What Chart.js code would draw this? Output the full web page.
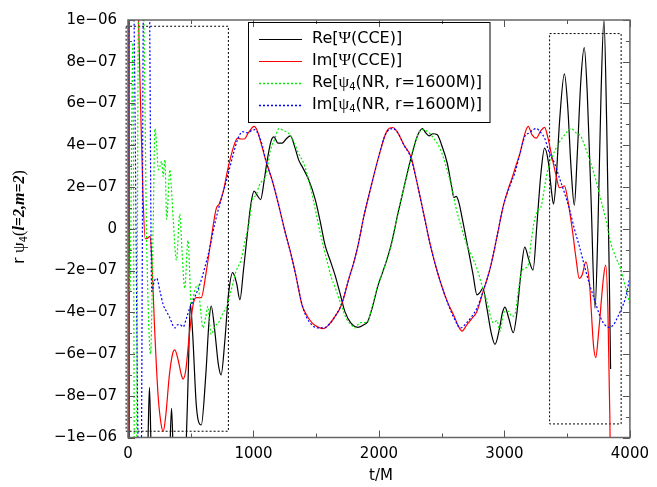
<!DOCTYPE html>
<html>
<head>
<meta charset="utf-8">
<script src="https://cdn.jsdelivr.net/npm/chart.js@4.4.1/dist/chart.umd.min.js"></script>
<style>
  html, body { margin: 0; padding: 0; background: #fff; }
  canvas { display: block; }
</style>
</head>
<body>
<canvas id="psi4-chart" width="657" height="487"></canvas>
<script>
// values are stored in units of 1e-7
const UNIT = 1e-7;

// Re[Psi(CCE)] - black solid
const reCceT = [0, 3, 6, 10, 150, 160, 171, 182, 195, 330,
  347, 362, 420, 460, 480, 497, 515, 545, 584, 620,
  645, 663, 690, 720, 742, 770, 800, 834, 865, 892,
  920, 952, 980, 1005, 1030, 1057, 1085, 1110, 1140, 1163,
  1195, 1228, 1260, 1294, 1330, 1360, 1386, 1439, 1492, 1530,
  1571, 1610, 1650, 1690, 1728, 1780, 1833, 1880, 1912, 1950,
  1991, 2040, 2096, 2150, 2202, 2260, 2310, 2347, 2372, 2399,
  2430, 2465, 2500, 2544, 2580, 2597, 2615, 2635, 2670, 2715,
  2750, 2781, 2805, 2828, 2860, 2895, 2925, 2960, 2985, 3004,
  3035, 3070, 3100, 3130, 3162, 3195, 3228, 3260, 3290, 3320,
  3350, 3375, 3391, 3410, 3440, 3478, 3505, 3530, 3557, 3580,
  3610, 3636, 3660, 3690, 3722, 3745, 3770, 3793, 3815, 3835,
  3846];
const reCceV = [15, -15, 15, -15, -13, -10, -7.6, -10, -13, -11,
  -8.6, -11, -14, -11, -7, -3.6, -5, -8.5, -9.4, -7,
  -4.5, -3.7, -4.8, -6.5, -7.0, -5.5, -3.2, -2.1, -2.6, -3.4,
  -2, -0.2, 1.2, 1.8, 1.6, 1.4, 2.3, 3.3, 4.2, 4.4,
  4.1, 4.1, 4.3, 4.45, 3.9, 3.3, 3.0, 2.36, 1.41, 0.4,
  -0.8, -1.5, -2.22, -3.1, -3.96, -4.55, -4.72, -4.6, -4.43, -3.7,
  -2.75, -1.9, -0.8, 0.7, 2.05, 3.5, 4.5, 4.8, 4.6, 4.45,
  4.55, 4.5, 4.0, 3.15, 2.0, 1.5, 1.55, 1.3, 0.3, -1.1,
  -2.2, -3.17, -3.05, -2.85, -3.8, -5.0, -5.54, -4.8, -4.0, -3.75,
  -4.3, -4.98, -4.0, -2.2, -0.88, -1.5, -1.98, 0.3, 2.6, 3.86,
  3.2, 1.8, 1.18, 2.2, 5.2, 7.42, 5.8, 3.0, 1.13, 3.5,
  7.2, 8.68, 6.5, 1.5, -3.8, 0, 6.5, 10, 5, -2,
  -6.72];

// Im[Psi(CCE)] - red solid
const imCceT = [0, 3, 6, 10, 70, 84, 100, 120, 137, 155,
  176, 190, 210, 240, 265, 281, 300, 330, 355, 373,
  400, 425, 439, 460, 490, 520, 544, 584, 620, 660,
  702, 728, 760, 790, 807, 840, 873, 900, 926, 960,
  1005, 1030, 1060, 1097, 1150, 1202, 1250, 1294, 1340, 1386,
  1420, 1465, 1510, 1557, 1600, 1650, 1702, 1760, 1800, 1833,
  1880, 1938, 2000, 2050, 2070, 2110, 2150, 2200, 2254, 2300,
  2360, 2410, 2465, 2544, 2600, 2640, 2662, 2700, 2740, 2781,
  2830, 2886, 2940, 2991, 3030, 3057, 3096, 3123, 3160, 3189,
  3220, 3254, 3290, 3320, 3345, 3373, 3410, 3438, 3460, 3478,
  3504, 3540, 3570, 3596, 3620, 3649, 3680, 3710, 3728, 3750,
  3790, 3807, 3825, 3840, 3850];
const imCceV = [-15, 15, -15, 15, 13, 10, 6, 1.5, -0.48, -0.45,
  -0.36, -1.5, -4.5, -8, -9.4, -9.7, -9.0, -7, -6, -5.8,
  -6.3, -7.0, -7.2, -6.8, -5, -3.6, -3.3, -3.3, -2.2, -0.6,
  0.94, 1.2, 1.8, 2.7, 3.15, 3.9, 4.34, 4.3, 4.3, 4.6,
  4.9, 4.7, 4.1, 3.3, 2.3, 1.1, -0.1, -1.1, -2.3, -3.64,
  -4.1, -4.5, -4.7, -4.78, -4.6, -4.2, -3.64, -2.4, -1.6, -0.8,
  0.6, 2.05, 3.5, 4.5, 4.75, 4.85, 4.6, 4.0, 3.47, 2.3,
  0.63, -0.8, -2.06, -3.48, -4.2, -4.75, -4.9, -4.6, -4.3, -3.96,
  -3.0, -1.9, -0.4, 1.1, 1.9, 2.36, 3.1, 3.6, 4.5, 4.9,
  4.5, 4.34, 4.7, 4.86, 4.4, 3.6, 2.6, 1.97, 2.0, 2.05,
  1.41, 0, -1.4, -2.38, -2.2, -1.59, -2.8, -5.6, -6.17, -5,
  -2.3, -1.74, -4, -9, -14];

// Re[psi4(NR, r=1600M)] - green dotted
const reNrT = [0, 15, 39, 52, 66, 85, 118, 150, 180, 200,
  215, 228, 242, 255, 268, 280, 295, 308, 334, 345,
  360, 386, 413, 430, 452, 478, 505, 530, 557, 580,
  597, 620, 636, 650, 663, 690, 728, 760, 781, 820,
  860, 900, 939, 965, 991, 1020, 1044, 1070, 1097, 1136,
  1170, 1202, 1240, 1281, 1320, 1360, 1399, 1452, 1490, 1531,
  1580, 1623, 1650, 1689, 1740, 1780, 1807, 1850, 1899, 1940,
  1991, 2040, 2096, 2150, 2202, 2260, 2310, 2347, 2399, 2440,
  2490, 2544, 2580, 2610, 2650, 2702, 2740, 2781, 2820, 2860,
  2912, 2940, 2965, 2995, 3031, 3060, 3083, 3110, 3136, 3160,
  3189, 3215, 3241, 3270, 3294, 3320, 3346, 3385, 3425, 3480,
  3531, 3570, 3609, 3650, 3688, 3730, 3767, 3810, 3846, 3890,
  3925, 3965, 4000];
const reNrV = [0, -3, 8.9, -12, -12, 12, 12, -1, -6.0, 0,
  4.8, 4.0, 2.83, 3.0, 3.23, 2.5, 3.3, 0.46, 2.83, 2.0,
  0.5, -1.5, 0.7, -1.0, -2.85, -0.56, -3.64, -3.0, -2.69, -4.0,
  -4.75, -4.2, -3.72, -4.5, -5.06, -4.7, -4.43, -4.0, -3.8, -3.0,
  -2.06, -1.5, -0.4, 0.3, 1.41, 1.6, 2.05, 2.3, 2.52, 3.78,
  4.3, 4.8, 4.7, 4.57, 4.2, 3.6, 3.15, 2.05, 1.0, -0.17,
  -1.4, -2.38, -2.8, -3.48, -4.3, -4.6, -4.75, -4.5, -4.5, -3.9,
  -2.7, -1.9, -0.8, 0.7, 2.05, 3.5, 4.5, 4.75, 4.6, 4.3,
  3.8, 2.8, 2.0, 1.1, 0.2, -0.8, -1.3, -1.9, -2.7, -3.48,
  -4.5, -4.4, -4.9, -4.0, -3.96, -4.2, -4.1, -3.0, -2.06, -1.9,
  -1.74, -0.5, 0.46, 0.9, 1.1, 2.0, 2.83, 3.5, 4.02, 4.5,
  4.8, 4.6, 4.42, 3.8, 3.15, 2.3, 1.41, 0.4, -0.64, -1.4,
  -1.9, -2.8, -3.64];

// Im[psi4(NR, r=1600M)] - blue dotted
const imNrT = [0, 8, 40, 88, 104, 125, 168, 189, 210, 229,
  255, 281, 310, 334, 355, 373, 395, 413, 440, 465,
  492, 530, 571, 610, 650, 690, 728, 770, 807, 840,
  873, 912, 950, 985, 1010, 1040, 1070, 1097, 1150, 1202,
  1250, 1294, 1340, 1386, 1420, 1465, 1510, 1557, 1600, 1650,
  1702, 1760, 1800, 1833, 1880, 1938, 2000, 2050, 2110, 2150,
  2200, 2254, 2300, 2360, 2410, 2465, 2544, 2600, 2649, 2700,
  2740, 2781, 2830, 2886, 2940, 2991, 3040, 3083, 3120, 3162,
  3200, 3230, 3254, 3290, 3320, 3360, 3399, 3440, 3478, 3520,
  3557, 3600, 3636, 3675, 3714, 3767, 3800, 3833, 3870, 3899,
  3935, 3964, 4000];
const imNrV = [0, 12, 12, -12, -12, 12, 12, -3.0, -2.5, -2.38,
  -3.0, -3.64, -4.0, -4.27, -4.6, -4.75, -4.6, -4.59, -4.7, -4.3,
  -3.8, -3.3, -2.69, -1.9, -0.96, 0.2, 1.1, 2.0, 2.83, 3.6,
  4.26, 4.65, 4.6, 4.7, 4.75, 4.5, 4.0, 3.3, 2.3, 1.1,
  -0.1, -1.1, -2.3, -3.6, -4.2, -4.6, -4.75, -4.75, -4.6, -4.2,
  -3.6, -2.4, -1.6, -0.8, 0.6, 2.05, 3.5, 4.5, 4.8, 4.6,
  4.0, 3.4, 2.3, 0.6, -0.8, -2.06, -3.5, -4.3, -4.75, -4.5,
  -4.2, -3.8, -3.0, -1.9, -0.4, 1.1, 2.0, 2.68, 3.5, 4.42,
  4.6, 4.75, 4.8, 4.6, 4.34, 3.6, 3.15, 2.4, 1.73, 0.9,
  0, -0.9, -1.74, -2.6, -3.33, -4.27, -4.6, -4.72, -4.6, -4.27,
  -3.8, -3.33, -2.3];

// dotted zoom boxes (t corners, value corners)
const box1T = [-15, 800, 800, -15, -15];
const box1V = [9.7, 9.7, -9.7, -9.7, 9.7];
const box2T = [3360, 3930, 3930, 3360, 3360];
const box2V = [9.35, 9.35, -9.35, -9.35, 9.35];

const xTickValues = [0, 1000, 2000, 3000, 4000];
const xTickLabels = ['0', '1000', '2000', '3000', '4000'];
const yTickValues = [-10, -8, -6, -4, -2, 0, 2, 4, 6, 8, 10];
const yTickLabels = ['\u22121e\u221206', '\u22128e\u221207', '\u22126e\u221207', '\u22124e\u221207', '\u22122e\u221207', '0',
  '2e\u221207', '4e\u221207', '6e\u221207', '8e\u221207', '1e\u221206'];

const SANS = '15px "DejaVu Sans"';
const LEG = '16px "DejaVu Sans"';
const GREEK = '17px "Liberation Serif"';
const SUB = '10px "DejaVu Sans"';

function pts(ts, vs) {
  return ts.map((t, i) => ({ x: t, y: vs[i] * UNIT }));
}

function drawRich(ctx, parts, x, y, center) {
  let w = 0;
  parts.forEach(p => { ctx.font = p[1]; w += ctx.measureText(p[0]).width; });
  let cx = center ? x - w / 2 : x;
  parts.forEach(p => {
    ctx.font = p[1];
    ctx.fillText(p[0], cx, y + (p[2] || 0));
    cx += ctx.measureText(p[0]).width;
  });
}

const legendRows = [
  { color: '#000000', dash: [], parts: [['Re[', LEG], ['\u03A8', GREEK], ['(CCE)]', LEG]] },
  { color: '#ff0000', dash: [], parts: [['Im[', LEG], ['\u03A8', GREEK], ['(CCE)]', LEG]] },
  { color: '#00ee00', dash: [2, 2], parts: [['Re[', LEG], ['\u03C8', GREEK], ['4', SUB, 4], ['(NR, r=1600M)]', LEG]] },
  { color: '#0000ff', dash: [2, 2], parts: [['Im[', LEG], ['\u03C8', GREEK], ['4', SUB, 4], ['(NR, r=1600M)]', LEG]] }
];

const frame = {
  id: 'frame',
  afterDatasetsDraw(chart) {
    const { ctx, chartArea: a, scales: { x, y } } = chart;
    ctx.save();
    ctx.setLineDash([]);
    ctx.strokeStyle = '#555';
    ctx.lineWidth = 1;
    // ticks on all four sides, pointing inward
    for (let t = 0; t <= 4000; t += 500) {
      const px = Math.round(x.getPixelForValue(t)) + 0.5;
      const len = t % 1000 === 0 ? 7 : 4;
      ctx.beginPath();
      ctx.moveTo(px, a.bottom); ctx.lineTo(px, a.bottom - len);
      ctx.moveTo(px, a.top); ctx.lineTo(px, a.top + len);
      ctx.stroke();
    }
    for (let k = -10; k <= 10; k++) {
      const py = Math.round(y.getPixelForValue(k * UNIT)) + 0.5;
      const len = k % 2 === 0 ? 7 : 4;
      ctx.beginPath();
      ctx.moveTo(a.left, py); ctx.lineTo(a.left + len, py);
      ctx.moveTo(a.right, py); ctx.lineTo(a.right - len, py);
      ctx.stroke();
    }
    ctx.strokeStyle = '#666';
    ctx.lineWidth = 1.5;
    ctx.strokeRect(a.left, a.top, a.right - a.left, a.bottom - a.top);

    // legend
    ctx.lineWidth = 1;
    ctx.strokeStyle = '#000';
    ctx.strokeRect(248.5, 22.5, 241.5, 100);
    ctx.fillStyle = '#000';
    ctx.textBaseline = 'middle';
    ctx.textAlign = 'left';
    legendRows.forEach((row, i) => {
      const ry = 39 + i * 22;
      ctx.strokeStyle = row.color;
      ctx.setLineDash(row.dash);
      ctx.lineWidth = row.dash.length ? 1.3 : 1.2;
      ctx.beginPath();
      ctx.moveTo(259, ry + 0.5); ctx.lineTo(302, ry + 0.5);
      ctx.stroke();
      drawRich(ctx, row.parts, 312, ry, false);
    });
    ctx.setLineDash([]);

    // axis titles
    ctx.font = SANS;
    ctx.textAlign = 'center';
    ctx.fillText('t/M', 381, 476);
    ctx.textAlign = 'left';
    ctx.translate(20, 217);
    ctx.rotate(-Math.PI / 2);
    drawRich(ctx, [['r ', SANS], ['\u03C8', GREEK], ['4', SUB, 4], ['(', '16px "Liberation Serif"'],
      ['l=2,m=2', 'bold italic 16px "Liberation Serif"'], [')', '16px "Liberation Serif"']], 0, 0, true);
    ctx.restore();
  }
};

const curve = {
  pointRadius: 0,
  borderWidth: 1.2,
  fill: false,
  cubicInterpolationMode: 'monotone'
};

const box = {
  pointRadius: 0,
  borderWidth: 1,
  borderColor: '#000',
  borderDash: [2, 2],
  fill: false,
  tension: 0,
  clip: 6,
  order: 5
};

new Chart(document.getElementById('psi4-chart').getContext('2d'), {
  type: 'line',
  data: {
    datasets: [
      { ...curve, label: 'Re[Psi(CCE)]', data: pts(reCceT, reCceV), borderColor: '#000000', order: 3 },
      { ...curve, label: 'Im[Psi(CCE)]', data: pts(imCceT, imCceV), borderColor: '#ff0000', order: 2 },
      { ...curve, label: 'Re[psi4(NR)]', data: pts(reNrT, reNrV), borderColor: '#00ee00', borderDash: [2, 2], order: 1 },
      { ...curve, label: 'Im[psi4(NR)]', data: pts(imNrT, imNrV), borderColor: '#0000ff', borderDash: [2, 2], order: 0 },
      { ...box, label: 'box1', data: pts(box1T, box1V) },
      { ...box, label: 'box2', data: pts(box2T, box2V) }
    ]
  },
  options: {
    responsive: false,
    animation: false,
    layout: { padding: { top: 15, right: 21, left: 0, bottom: 0 } },
    plugins: { legend: { display: false }, tooltip: { enabled: false } },
    scales: {
      x: {
        type: 'linear',
        min: 0,
        max: 4000,
        afterFit(scale) { scale.height = 49.5; },
        afterBuildTicks(scale) { scale.ticks = xTickValues.map(v => ({ value: v })); },
        grid: { display: false, drawTicks: false },
        border: { display: false },
        ticks: {
          padding: 8,
          color: '#000',
          font: { family: 'DejaVu Sans', size: 15 },
          maxRotation: 0,
          callback: (v, i) => xTickLabels[i]
        }
      },
      y: {
        type: 'linear',
        min: -10 * UNIT,
        max: 10 * UNIT,
        afterFit(scale) { scale.width = 128; },
        afterBuildTicks(scale) { scale.ticks = yTickValues.map(v => ({ value: v * UNIT })); },
        grid: { display: false, drawTicks: false },
        border: { display: false },
        ticks: {
          padding: 11,
          color: '#000',
          font: { family: 'DejaVu Sans', size: 15 },
          callback: (v, i) => yTickLabels[i]
        }
      }
    }
  },
  plugins: [frame]
});
</script>
</body>
</html>
